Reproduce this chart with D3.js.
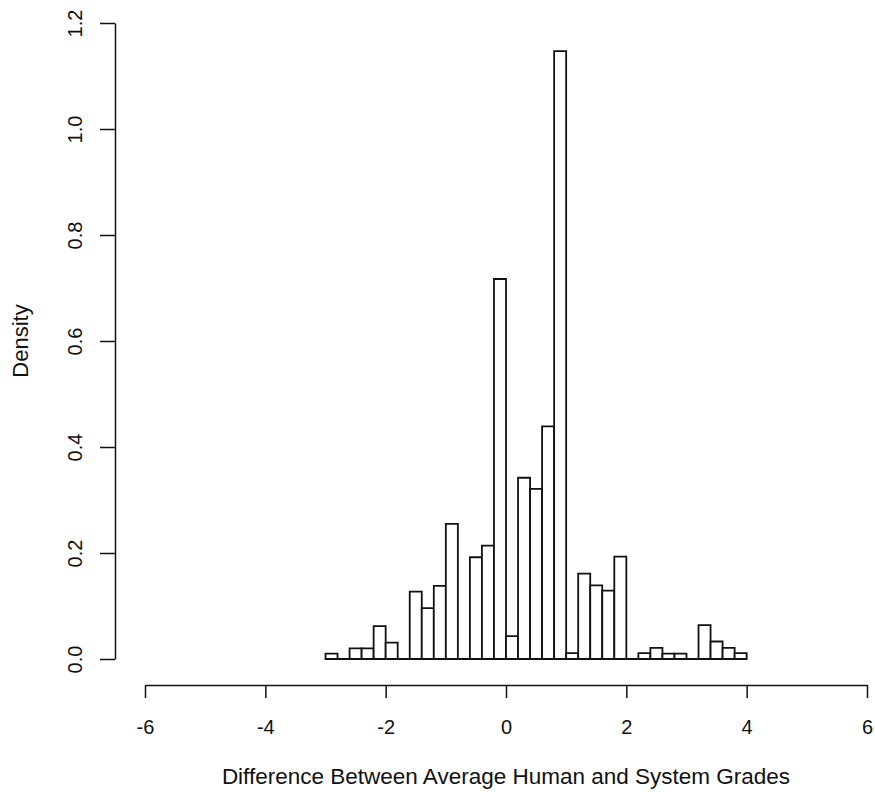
<!DOCTYPE html>
<html>
<head>
<meta charset="utf-8">
<script src="https://cdn.jsdelivr.net/npm/d3@7"></script>
<style>
  html, body { margin: 0; padding: 0; background: #fff; }
  svg { display: block; font-family: "Liberation Sans", Arial, Helvetica, sans-serif; }
</style>
</head>
<body>
<svg id="chart" width="875" height="792"></svg>
<script>
// Histogram bin edges (each bin 0.2 wide)
const binLeft = [-3.0,-2.8,-2.6,-2.4,-2.2,-2.0,-1.8,-1.6,-1.4,-1.2,-1.0,-0.8,-0.6,-0.4,-0.2,
                 0.0,0.2,0.4,0.6,0.8,1.0,1.2,1.4,1.6,1.8,2.0,2.2,2.4,2.6,2.8,3.0,3.2,3.4,3.6,3.8];
const binRight = [-2.8,-2.6,-2.4,-2.2,-2.0,-1.8,-1.6,-1.4,-1.2,-1.0,-0.8,-0.6,-0.4,-0.2,0.0,
                 0.2,0.4,0.6,0.8,1.0,1.2,1.4,1.6,1.8,2.0,2.2,2.4,2.6,2.8,3.0,3.2,3.4,3.6,3.8,4.0];
const density = [0.010,0.000,0.020,0.020,0.062,0.031,0.000,0.127,0.096,0.138,0.255,0.000,0.192,0.214,0.717,
                 0.043,0.342,0.321,0.439,1.147,0.011,0.161,0.139,0.129,0.193,0.000,0.011,0.021,0.010,0.010,0.000,0.064,0.033,0.021,0.011];
const xTicks = [-6,-4,-2,0,2,4,6];
const yTicks = [0.0,0.2,0.4,0.6,0.8,1.0,1.2];
const xTitle = "Difference Between Average Human and System Grades";
const yTitle = "Density";

const svg = d3.select("#chart");
const ink = "#111";

const x = d3.scaleLinear().domain([-6, 6]).range([145, 867]);
const y = d3.scaleLinear().domain([0, 1.2]).range([659, 23]);

// Bars (drawn as closed paths so empty bins still show as a line on the baseline)
const bins = binLeft.map((x0, i) => ({ x0, x1: binRight[i], d: density[i] }));
svg.append("g")
  .selectAll("path")
  .data(bins)
  .join("path")
  .attr("d", b => {
    const p = d3.path();
    p.rect(x(b.x0), y(b.d), x(b.x1) - x(b.x0), y(0) - y(b.d));
    return p.toString();
  })
  .attr("fill", "#fff")
  .attr("stroke", ink)
  .attr("stroke-width", 1.8)
  .attr("stroke-linejoin", "miter");

// Y axis
const yAxis = svg.append("g")
  .attr("transform", "translate(115,0)")
  .call(d3.axisLeft(y).tickValues(yTicks).tickFormat(d3.format(".1f")).tickSize(15).tickSizeOuter(0));
yAxis.select(".domain").attr("stroke", ink).attr("stroke-width", 1.5);
yAxis.selectAll(".tick line").attr("stroke", ink).attr("stroke-width", 1.5);
yAxis.selectAll(".tick text")
  .attr("transform", "rotate(-90)")
  .attr("x", 0)
  .attr("y", -33)
  .attr("dy", 0)
  .attr("text-anchor", "middle")
  .attr("fill", ink)
  .style("font-size", "20px");

// X axis
const xAxis = svg.append("g")
  .attr("transform", "translate(0,685)")
  .call(d3.axisBottom(x).tickValues(xTicks).tickFormat(d3.format("d")).tickSize(13).tickSizeOuter(0));
xAxis.select(".domain").attr("stroke", ink).attr("stroke-width", 1.5);
xAxis.selectAll(".tick line").attr("stroke", ink).attr("stroke-width", 1.5);
xAxis.selectAll(".tick text")
  .attr("y", 49)
  .attr("dy", 0)
  .attr("fill", ink)
  .style("font-size", "20px")
  .text(d => d < 0 ? "-" + Math.abs(d) : String(d));

// Titles
svg.append("text")
  .attr("x", x(0))
  .attr("y", 784)
  .attr("text-anchor", "middle")
  .attr("fill", ink)
  .style("font-size", "22.5px")
  .text(xTitle);

svg.append("text")
  .attr("transform", "translate(28," + y(0.6) + ") rotate(-90)")
  .attr("text-anchor", "middle")
  .attr("fill", ink)
  .style("font-size", "22px")
  .text(yTitle);
</script>
</body>
</html>
